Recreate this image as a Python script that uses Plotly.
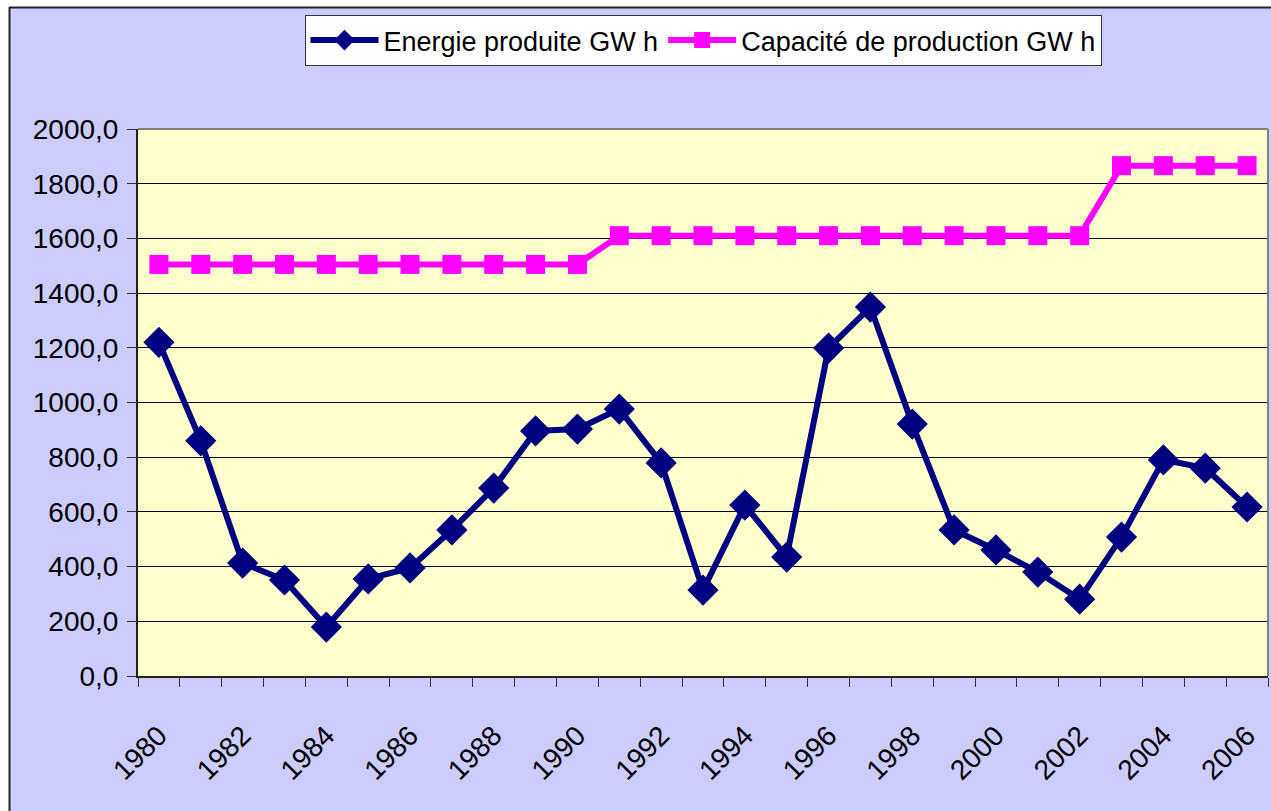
import plotly.graph_objects as go

years = list(range(1980, 2007))
energie = [1220, 860, 413, 351, 179, 355, 395, 534, 687, 896, 903, 976, 779, 314,
           625, 435, 1199, 1349, 921, 534, 461, 380, 281, 508, 790, 760, 618]
capacite = [1505] * 11 + [1610] * 12 + [1866] * 4
y_ticks = list(range(0, 2001, 200))
y_labels = [f"{v},0" for v in y_ticks]
x_label_years = years[::2]

FONT = "Liberation Sans, Arial, sans-serif"

fig = go.Figure()
fig.add_trace(go.Scatter(
    x=years, y=energie, name="Energie produite GW h", mode="lines+markers",
    line=dict(color="#000080", width=6),
    marker=dict(symbol="diamond", size=24, color="#000080"),
))
fig.add_trace(go.Scatter(
    x=years, y=capacite, name="Capacité de production GW h", mode="lines+markers",
    line=dict(color="#FF00FF", width=6),
    marker=dict(symbol="square", size=19, color="#FF00FF"),
))

W, H = 1271, 811
L, R, T, B = 138, 3, 129, 135
pw = W - L - R
ph = H - T - B

def px(x):
    return (x - L) / pw

def py(y):
    return (H - B - y) / ph

shapes = [
    dict(type="rect", xref="paper", yref="paper", x0=px(0), x1=px(W), y0=py(0), y1=py(7),
         fillcolor="white", line=dict(width=0), layer="below"),
    dict(type="rect", xref="paper", yref="paper", x0=px(0), x1=px(9), y0=py(H), y1=py(0),
         fillcolor="white", line=dict(width=0), layer="below"),
    dict(type="line", xref="paper", yref="paper", x0=px(9), x1=px(W), y0=py(7.5), y1=py(7.5),
         line=dict(color="#222222", width=2)),
    dict(type="line", xref="paper", yref="paper", x0=px(9.5), x1=px(9.5), y0=py(7), y1=py(H),
         line=dict(color="#222222", width=2)),
    dict(type="line", xref="paper", yref="paper", x0=0, x1=1, y0=1, y1=1,
         line=dict(color="#808080", width=2)),
    dict(type="line", xref="paper", yref="paper", x0=1, x1=1, y0=0, y1=1,
         line=dict(color="#808080", width=2)),
]

fig.update_layout(
    width=W, height=H,
    margin=dict(l=L, r=R, t=T, b=B, pad=0),
    paper_bgcolor="#CCCCFF",
    plot_bgcolor="#FFFFCC",
    font=dict(family=FONT, size=28, color="black"),
    showlegend=True,
    legend=dict(
        orientation="h", x=0.5, xanchor="center", y=py(15), yanchor="top",
        bgcolor="white", bordercolor="#333333", borderwidth=1,
        font=dict(family=FONT, size=27, color="black"),
        itemwidth=68, tracegroupgap=0,
    ),
    shapes=shapes,
    xaxis=dict(
        range=[years[0] - 0.5, years[-1] + 0.5],
        tickmode="array", tickvals=x_label_years, ticktext=[str(y) for y in x_label_years],
        tickangle=-45, ticks="", showgrid=False, zeroline=False,
        showline=True, linecolor="#222222", linewidth=2,
        ticklabelstandoff=30,
        minor=dict(tickmode="array", tickvals=[y - 0.5 for y in years] + [years[-1] + 0.5],
                   ticks="outside", ticklen=9, tickcolor="#333333", tickwidth=1, showgrid=False),
    ),
    yaxis=dict(
        range=[0, 2000], tickmode="array", tickvals=y_ticks, ticktext=y_labels,
        ticks="outside", ticklen=9, tickcolor="#333333",
        showgrid=True, gridcolor="#000000", gridwidth=1, zeroline=False,
        showline=True, linecolor="#222222", linewidth=2,
        ticklabelstandoff=3,
    ),
)

fig.write_html("out.html", config={"displayModeBar": False},
               post_script="document.body.style.margin='0';")
